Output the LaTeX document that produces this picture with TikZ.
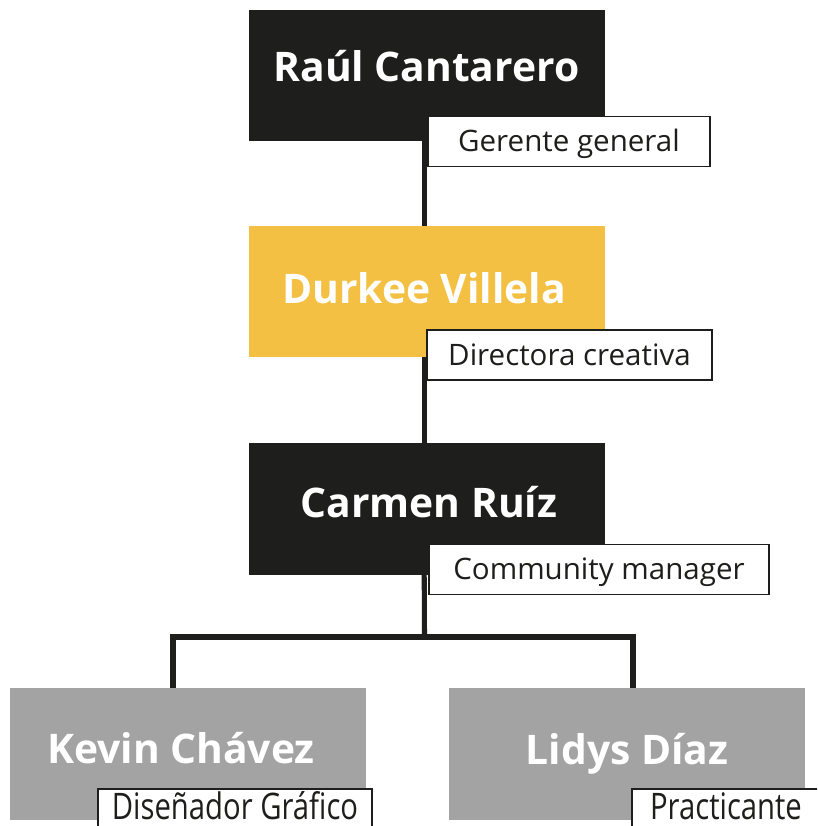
\documentclass[tikz,border=0pt]{standalone}
\usepackage{fontspec}
\setmainfont{Open Sans}
\newfontfamily\angosta[FakeStretch=0.8]{Open Sans}
\definecolor{tinta}{HTML}{1E1E1C}
\definecolor{dorado}{HTML}{F4C043}
\definecolor{gris}{HTML}{A3A3A3}
\tikzset{
  caja/.style={fill=#1, minimum width=8.9cm, minimum height=3.28cm, inner sep=0pt},
  nombre/.style={text=white, anchor=base, inner sep=0pt, font=\fontsize{29}{32}\selectfont\bfseries},
  cargo/.style={draw=tinta, line width=1.4pt, fill=white, text=tinta, minimum height=1.25cm,
    inner sep=0pt, text height=0.5cm, text depth=0cm, font=\fontsize{21}{24}\selectfont},
  cargobajo/.style={fill=white, text=tinta, anchor=north, minimum height=0.925cm, inner sep=0pt,
    text height=0.575cm, text depth=0cm, font=\angosta\fontsize{26}{30}\selectfont},
  borde/.style={draw=tinta, line width=1.4pt},
  rama/.style={draw=tinta, line width=3.6pt}
}
\begin{document}
\begin{tikzpicture}[x=0.025cm, y=-0.025cm]
% Page size
\useasboundingbox (0,0) rectangle (817,826);
\clip (0,0) rectangle (817,826);

% Boxes
\node[caja=tinta] (raul) at (427, 75.5) {};
\node[caja=dorado] (durkee) at (427, 291.5) {};
\node[caja=tinta] (carmen) at (427, 509) {};
\node[caja=gris] (kevin) at (188, 754) {};
\node[caja=gris] (lidys) at (627, 754) {};

% Names
\node[nombre] (t1) at (426.5, 82) {Raúl Cantarero};
\node[nombre] (t2) at (424, 304) {Durkee Villela};
\node[nombre] (t3) at (429, 517) {Carmen Ruíz};
\node[nombre] (t4) at (181, 763) {Kevin Chávez};
\node[nombre] (t5) at (627, 764) {Lidys Díaz};

% Connectors
\draw[rama] ([xshift=-0.07cm]raul.south) -- ([xshift=-0.07cm]durkee.north);
\draw[rama] ([xshift=-0.07cm]durkee.south) -- ([xshift=-0.07cm]carmen.north);
\coordinate (nudo) at (424.5, 637);
\draw[rama] ([xshift=-0.07cm]carmen.south) -- (nudo);
\draw[rama, line join=miter] ([xshift=-0.375cm]kevin.north) |- (nudo) -| ([xshift=0.15cm]lidys.north);

% Role labels
\node[cargo, minimum width=7.05cm] (gerente) at (569, 141.5) {Gerente general};
\node[cargo, minimum width=7.1cm] (directora) at (569.5, 355) {Directora creativa};
\node[cargo, minimum width=8.475cm] (community) at (599, 569.5) {Community manager};
\node[cargobajo, minimum width=6.85cm] (disenador) at (235, 789) {Diseñador Gráfico};
\node[cargobajo, minimum width=4.7cm] (practicante) at (726, 789) {Practicante};
% open bottom: the page cuts these two
\draw[borde] ([yshift=-0.1cm]disenador.south west) |- (disenador.north east) -- ([yshift=-0.1cm]disenador.south east);
\draw[borde] ([yshift=-0.1cm]practicante.south west) |- (practicante.north east) -- ([yshift=-0.1cm]practicante.south east);
\end{tikzpicture}
\end{document}
